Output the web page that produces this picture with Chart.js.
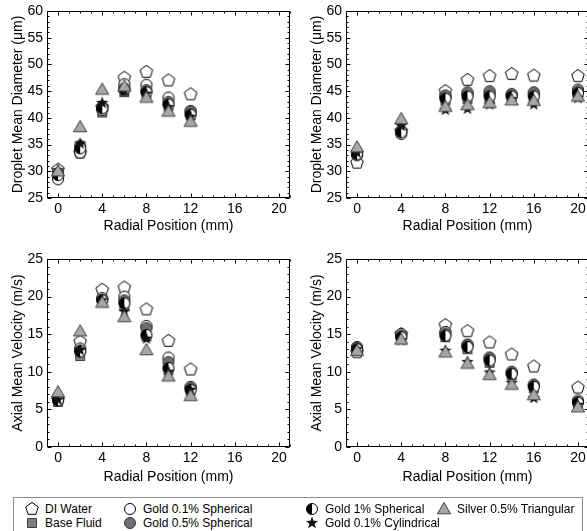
<!DOCTYPE html>
<html>
<head>
<meta charset="utf-8">
<script src="https://cdn.jsdelivr.net/npm/chart.js@4"></script>
<style>
  html, body { margin: 0; padding: 0; background: #fff; }
  body { width: 587px; height: 531px; overflow: hidden; position: relative; font-family: "Liberation Sans", Arial, sans-serif; }
  canvas.plot { position: absolute; }
  #legend { position: absolute; left: 13px; top: 497px; width: 570px; height: 44px; border: 1px solid #8c8c8c; box-sizing: border-box; }
  .item { position: absolute; font-size: 12px; line-height: 14px; color: #000; white-space: nowrap; }
  .item canvas { position: absolute; left: -20px; top: 0; }
</style>
</head>
<body>
<canvas id="c1" class="plot" width="300" height="240" style="left:0;top:0"></canvas>
<canvas id="c2" class="plot" width="300" height="240" style="left:299px;top:0"></canvas>
<canvas id="c3" class="plot" width="300" height="240" style="left:0;top:249px"></canvas>
<canvas id="c4" class="plot" width="300" height="240" style="left:299px;top:249px"></canvas>
<div id="legend"></div>
<script>
// series, in legend order
const seriesNames = ["DI Water", "Base Fluid", "Gold 0.1% Spherical", "Gold 0.5% Spherical",
  "Gold 1% Spherical", "Gold 0.1% Cylindrical", "Silver 0.5% Triangular"];
const seriesMarks = ["pentagon", "square", "circleOpen", "circleGray", "half", "star", "triangle"];

// radial positions (mm)
const xLeft = [0, 2, 4, 6, 8, 10, 12];
const xRight = [0, 4, 8, 10, 12, 14, 16, 20];
const xTicks = [0, 4, 8, 12, 16, 20];
const yTicksDia = [25, 30, 35, 40, 45, 50, 55, 60];
const yTicksVel = [0, 5, 10, 15, 20, 25];

// droplet mean diameter (um), left panel
const diaLeft = [
  [30.3, 33.5, 42.0, 47.5, 48.6, 47.0, 44.4],
  [29.2, 34.0, 41.0, 44.8, 44.6, 42.2, 40.5],
  [28.5, 33.5, 41.5, 46.3, 46.2, 43.8, 41.3],
  [29.5, 34.8, 42.0, 45.5, 45.2, 43.0, 41.2],
  [29.3, 34.3, 41.8, 45.3, 44.8, 42.5, 40.6],
  [30.2, 35.2, 42.8, 45.0, 44.5, 42.0, 40.2],
  [30.0, 38.3, 45.3, 45.9, 43.8, 41.2, 39.3]
];
// droplet mean diameter (um), right panel
const diaRight = [
  [31.6, 37.5, 45.0, 47.1, 47.8, 48.2, 47.9, 47.8],
  [33.3, 37.2, 43.2, 43.5, 43.7, 43.8, 43.8, 44.5],
  [33.0, 37.0, 44.0, 44.5, 44.6, 44.3, 44.5, 45.3],
  [33.5, 37.6, 44.2, 44.8, 45.0, 44.5, 44.8, 45.0],
  [33.2, 37.3, 43.6, 44.0, 44.0, 44.0, 44.0, 44.6],
  [33.5, 38.5, 41.5, 41.7, 42.5, 43.5, 42.5, 43.7],
  [34.5, 39.8, 42.1, 42.4, 42.8, 43.3, 43.2, 44.0]
];
// axial mean velocity (m/s), left panel
const velLeft = [
  [6.3, 14.0, 20.9, 21.2, 18.3, 14.1, 10.3],
  [6.0, 12.1, 19.3, 18.8, 14.7, 10.2, 7.5],
  [6.3, 13.1, 19.8, 20.0, 16.1, 11.9, 8.0],
  [6.2, 12.8, 19.6, 19.5, 15.8, 11.3, 7.9],
  [6.2, 12.7, 19.5, 19.1, 14.9, 10.5, 7.6],
  [6.3, 12.9, 19.5, 18.0, 14.4, 10.0, 7.6],
  [7.3, 15.4, 19.2, 17.3, 12.9, 9.4, 6.8]
];
// axial mean velocity (m/s), right panel
const velRight = [
  [12.6, 15.0, 16.2, 15.4, 13.9, 12.3, 10.7, 7.9],
  [12.8, 14.5, 14.6, 13.0, 11.2, 9.5, 7.8, 5.7],
  [13.3, 15.0, 15.3, 13.6, 11.9, 10.0, 8.3, 6.2],
  [13.2, 14.8, 15.1, 13.6, 11.8, 9.9, 8.2, 6.0],
  [13.0, 14.6, 14.8, 13.3, 11.5, 9.7, 8.0, 5.9],
  [13.0, 14.2, 12.8, 11.3, 9.9, 8.5, 6.5, 5.6],
  [12.8, 14.3, 12.6, 11.1, 9.6, 8.3, 6.9, 5.3]
];

const FONT = "'Liberation Sans', Arial, sans-serif";

function drawMarker(ctx, kind, cx, cy) {
  ctx.lineWidth = 1;
  ctx.strokeStyle = "#000";
  ctx.beginPath();
  if (kind === "pentagon") {
    for (let i = 0; i < 5; i++) {
      const a = -Math.PI / 2 + i * 2 * Math.PI / 5;
      ctx.lineTo(cx + 6.6 * Math.cos(a), cy + 6.6 * Math.sin(a));
    }
    ctx.closePath();
    ctx.fillStyle = "#fff";
    ctx.fill(); ctx.stroke();
  } else if (kind === "square") {
    ctx.rect(cx - 4.5, cy - 4.5, 9, 9);
    ctx.fillStyle = "#7f7f7f"; ctx.strokeStyle = "#404040";
    ctx.fill(); ctx.stroke();
  } else if (kind === "circleOpen") {
    ctx.arc(cx, cy, 5.5, 0, Math.PI * 2);
    ctx.fillStyle = "#fff";
    ctx.fill(); ctx.stroke();
  } else if (kind === "circleGray") {
    ctx.arc(cx, cy, 5.5, 0, Math.PI * 2);
    ctx.fillStyle = "#6e6e6e"; ctx.strokeStyle = "#333";
    ctx.fill(); ctx.stroke();
  } else if (kind === "half") {
    ctx.arc(cx, cy, 5.5, 0, Math.PI * 2);
    ctx.fillStyle = "#fff";
    ctx.fill();
    ctx.beginPath();
    ctx.arc(cx, cy, 5.5, Math.PI / 2, Math.PI * 1.5);
    ctx.closePath();
    ctx.fillStyle = "#000";
    ctx.fill();
    ctx.beginPath();
    ctx.arc(cx, cy, 5.5, 0, Math.PI * 2);
    ctx.stroke();
  } else if (kind === "star") {
    for (let i = 0; i < 10; i++) {
      const a = -Math.PI / 2 + i * Math.PI / 5;
      const r = i % 2 === 0 ? 6.5 : 2.7;
      ctx.lineTo(cx + r * Math.cos(a), cy + r * Math.sin(a));
    }
    ctx.closePath();
    ctx.fillStyle = "#111";
    ctx.fill();
  } else if (kind === "triangle") {
    ctx.moveTo(cx, cy - 6.5);
    ctx.lineTo(cx + 6.6, cy + 4.8);
    ctx.lineTo(cx - 6.6, cy + 4.8);
    ctx.closePath();
    ctx.fillStyle = "#a6a6a6"; ctx.strokeStyle = "#404040";
    ctx.fill(); ctx.stroke();
  }
}

function markerImage(kind) {
  const c = document.createElement("canvas");
  c.width = 16; c.height = 16;
  drawMarker(c.getContext("2d"), kind, 8, 8);
  return c;
}
const markerImgs = seriesMarks.map(markerImage);

// box round the plot area with inward ticks on all four sides
const framePlugin = {
  id: "frame",
  beforeDatasetsDraw(chart) {
    const { ctx, chartArea: a, scales: { x, y } } = chart;
    const L = Math.round(a.left) + 0.5, R = Math.round(a.right) - 0.5;
    const T = Math.round(a.top) + 0.5, B = Math.round(a.bottom) - 0.5;
    ctx.save();
    ctx.strokeStyle = "#000";
    ctx.lineWidth = 1;
    ctx.strokeRect(L, T, R - L, B - T);
    ctx.beginPath();
    for (let v = Math.ceil(x.min); v <= x.max; v++) {
      const px = Math.round(x.getPixelForValue(v)) + 0.5;
      const len = v % 4 === 0 ? 4 : 2;
      ctx.moveTo(px, B); ctx.lineTo(px, B - len);
      ctx.moveTo(px, T); ctx.lineTo(px, T + len);
    }
    for (let v = Math.ceil(y.min); v <= y.max; v++) {
      const py = Math.round(y.getPixelForValue(v)) + 0.5;
      const len = v % 5 === 0 ? 4 : 2;
      ctx.moveTo(L, py); ctx.lineTo(L + len, py);
      ctx.moveTo(R, py); ctx.lineTo(R - len, py);
    }
    ctx.stroke();
    ctx.restore();
  }
};

function makePlot(id, xs, values, yMin, yMax, yTicks, yTitle, padTop, titleGap) {
  const datasets = values.map((vals, i) => ({
    label: seriesNames[i],
    data: vals.map((v, j) => ({ x: xs[j], y: v })),
    pointStyle: markerImgs[i],
    pointRadius: 6,
    showLine: false,
    order: values.length - 1 - i
  }));
  const tickFont = { family: FONT, size: 14 };
  return new Chart(document.getElementById(id).getContext("2d"), {
    type: "scatter",
    data: { datasets: datasets },
    options: {
      responsive: false,
      animation: false,
      layout: { padding: { top: padTop, right: 10, bottom: 0, left: 0 } },
      plugins: { legend: { display: false }, tooltip: { enabled: false } },
      scales: {
        x: {
          type: "linear", min: -1, max: 21,
          grid: { display: false, drawTicks: false },
          border: { display: false },
          afterBuildTicks: s => { s.ticks = xTicks.map(v => ({ value: v })); },
          ticks: { font: tickFont, color: "#000", padding: 3, maxRotation: 0 },
          title: { display: true, text: "Radial Position (mm)", font: tickFont, color: "#000", padding: { top: 0, bottom: titleGap } },
          afterFit: s => { s.height = 42; s.paddingLeft = 0; s.paddingRight = 0; }
        },
        y: {
          type: "linear", min: yMin, max: yMax,
          grid: { display: false, drawTicks: false },
          border: { display: false },
          afterBuildTicks: s => { s.ticks = yTicks.map(v => ({ value: v })); },
          ticks: { font: tickFont, color: "#000", padding: 4 },
          title: { display: true, text: yTitle, font: tickFont, color: "#000", padding: { top: 10, bottom: 0 } },
          afterFit: s => { s.width = 47; s.paddingTop = 0; s.paddingBottom = 0; }
        }
      }
    },
    plugins: [framePlugin]
  });
}

makePlot("c1", xLeft, diaLeft, 25, 60, yTicksDia, "Droplet Mean Diameter (μm)", 11, 5);
makePlot("c2", xRight, diaRight, 25, 60, yTicksDia, "Droplet Mean Diameter (μm)", 11, 5);
makePlot("c3", xLeft, velLeft, 0, 25, yTicksVel, "Axial Mean Velocity (m/s)", 10, 3);
makePlot("c4", xRight, velRight, 0, 25, yTicksVel, "Axial Mean Velocity (m/s)", 10, 3);

// legend: two rows, four columns
const legendPos = [[31, 6], [31, 20], [129, 6], [129, 20], [311, 6], [311, 20], [443, 6]];
const legend = document.getElementById("legend");
seriesNames.forEach((name, i) => {
  const div = document.createElement("div");
  div.className = "item";
  div.style.left = legendPos[i][0] + "px";
  div.style.top = (legendPos[i][1] - 2) + "px";
  const c = document.createElement("canvas");
  c.width = 14; c.height = 14;
  drawMarker(c.getContext("2d"), seriesMarks[i], 7, 7);
  div.appendChild(c);
  div.appendChild(document.createTextNode(name));
  legend.appendChild(div);
});
</script>
</body>
</html>
